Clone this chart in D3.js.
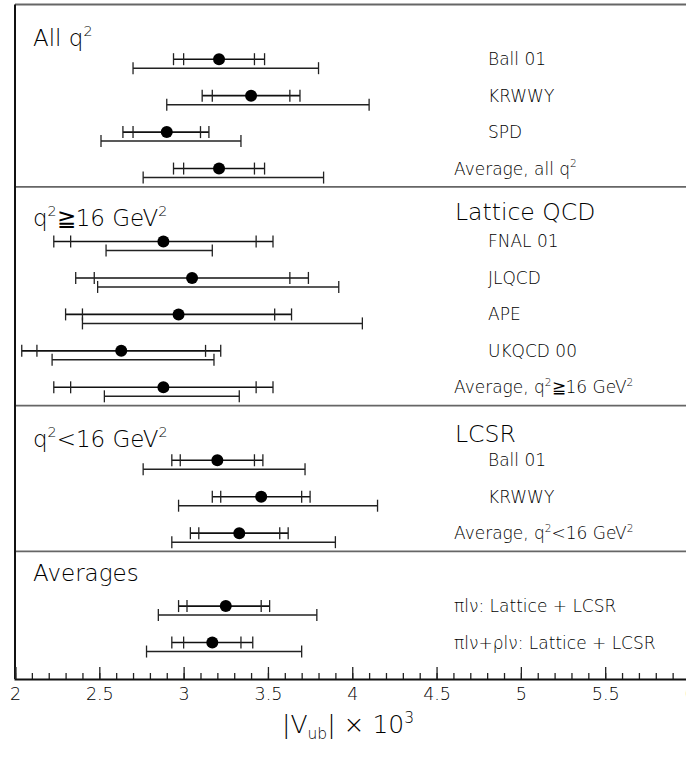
<!DOCTYPE html>
<html>
<head>
<meta charset="utf-8">
<script src="https://cdn.jsdelivr.net/npm/d3@7"></script>
<style>
  html, body { margin: 0; padding: 0; background: #fff; }
  svg { display: block; }
  text { font-family: "DejaVu Sans", sans-serif; fill: #000; }
</style>
</head>
<body>
<svg id="chart" width="686" height="757"></svg>
<script>
'use strict';

// section headings (left) and sub headings (right)
var sectionTitles = ['All q^2', 'q^2≧16 GeV^2', 'q^2<16 GeV^2', 'Averages'];
var sectionSubTitles = ['', 'Lattice QCD', 'LCSR', ''];
var sectionRows = [4, 5, 3, 2];

// one entry per measurement, top to bottom
var rowLabels = [
  'Ball 01', 'KRWWY', 'SPD', 'Average, all q^2',
  'FNAL 01', 'JLQCD', 'APE', 'UKQCD 00', 'Average, q^2≧16 GeV^2',
  'Ball 01', 'KRWWY', 'Average, q^2<16 GeV^2',
  'πlν: Lattice + LCSR', 'πlν+ρlν: Lattice + LCSR'
];
var rowIsSummary = [false, false, false, true,
  false, false, false, false, true,
  false, false, true,
  true, true];
var central = [3.21, 3.40, 2.90, 3.21,
  2.88, 3.05, 2.97, 2.63, 2.88,
  3.20, 3.46, 3.33,
  3.25, 3.17];
var innerErr = [[3.00, 3.42], [3.17, 3.63], [2.70, 3.10], [3.00, 3.42],
  [2.33, 3.43], [2.47, 3.63], [2.40, 3.54], [2.13, 3.13], [2.33, 3.43],
  [2.98, 3.42], [3.22, 3.70], [3.09, 3.57],
  [3.02, 3.46], [3.00, 3.34]];
var outerErr = [[2.94, 3.48], [3.11, 3.69], [2.64, 3.15], [2.94, 3.48],
  [2.23, 3.53], [2.36, 3.74], [2.30, 3.64], [2.04, 3.22], [2.23, 3.53],
  [2.93, 3.47], [3.17, 3.75], [3.04, 3.62],
  [2.97, 3.51], [2.93, 3.41]];
var fullErr = [[2.70, 3.80], [2.90, 4.10], [2.51, 3.34], [2.76, 3.83],
  [2.54, 3.17], [2.49, 3.92], [2.40, 4.06], [2.22, 3.18], [2.53, 3.33],
  [2.76, 3.72], [2.97, 4.15], [2.93, 3.90],
  [2.85, 3.79], [2.78, 3.70]];

var majorTicks = [2, 2.5, 3, 3.5, 4, 4.5, 5, 5.5, 6];
var axisTitle = '|V_{ub}| × 10^3';

function Chart() {
  this.svg = d3.select('#chart');
  this.x = d3.scaleLinear().domain([2, 6]).range([15, 689.5]);
  // vertical layout counted in row slots
  this.y = d3.scaleLinear().domain([0, 18.5]).range([4.5, 679]);
  this.draw();
}

// writes "q^2" / "V_{ub}" style strings as tspans
Chart.prototype.richText = function(sel, str, size) {
  var parts = str.split(/(\^\{[^}]*\}|\^.|_\{[^}]*\}|_.)/);
  var shift = 0;
  parts.forEach(function(p) {
    if (!p) return;
    var kind = 0, txt = p;
    if (p[0] === '^') { kind = 1; txt = p.replace(/^\^\{?|\}$/g, ''); }
    if (p[0] === '_') { kind = -1; txt = p.replace(/^_\{?|\}$/g, ''); }
    var target = kind === 1 ? -0.42 * size : (kind === -1 ? 0.25 * size : 0);
    sel.append('tspan')
      .attr('dy', target - shift)
      .style('font-size', kind ? (size * 0.62) + 'px' : size + 'px')
      .text(txt);
    shift = target;
  });
};

Chart.prototype.draw = function() {
  var self = this, svg = this.svg, x = this.x, y = this.y;

  // each section: its rows plus one slot of padding, last one a bit more
  var starts = [];
  var acc = 0;
  sectionRows.forEach(function(n, i) {
    starts.push(acc);
    acc += n + (i === sectionRows.length - 1 ? 1.5 : 1);
  });

  var rowSlot = [];
  sectionRows.forEach(function(n, i) {
    for (var k = 0; k < n; k++) rowSlot.push(starts[i] + 1.5 + k);
  });

  // frame
  svg.append('line')
    .attr('x1', x(2)).attr('x2', x(6))
    .attr('y1', y(0)).attr('y2', y(0))
    .attr('stroke', '#666').attr('stroke-width', 1.8);
  starts.slice(1).forEach(function(s) {
    svg.append('line')
      .attr('x1', x(2)).attr('x2', x(6))
      .attr('y1', y(s)).attr('y2', y(s))
      .attr('stroke', '#666').attr('stroke-width', 1.8);
  });
  svg.append('line')
    .attr('x1', x(2)).attr('x2', x(2))
    .attr('y1', y(0)).attr('y2', y(18.5))
    .attr('stroke', '#111').attr('stroke-width', 2);

  // section headings
  var titleBase = [1.13, 1.07, 1.13, 0.8];
  var subBase = [0, 0.91, 0.99, 0];
  sectionTitles.forEach(function(t, i) {
    var txt = svg.append('text')
      .attr('x', 33)
      .attr('y', y(starts[i] + titleBase[i]))
      .style('font-weight', 200);
    self.richText(txt, t, 23);
    if (sectionSubTitles[i]) {
      svg.append('text')
        .attr('x', 455)
        .attr('y', y(starts[i] + subBase[i]))
        .style('font-size', '23.5px')
        .style('font-weight', 200)
        .text(sectionSubTitles[i]);
    }
  });

  var rows = rowLabels.map(function(l, i) {
    return {
      label: l, summary: rowIsSummary[i], c: central[i],
      inner: innerErr[i], outer: outerErr[i], full: fullErr[i],
      yc: y(rowSlot[i])
    };
  });

  var g = svg.selectAll('.row')
    .data(rows)
    .enter().append('g')
    .attr('class', 'row');

  // lower bar: full error
  g.append('line')
    .attr('x1', function(d) { return x(d.full[0]); })
    .attr('x2', function(d) { return x(d.full[1]); })
    .attr('y1', function(d) { return d.yc + 9; })
    .attr('y2', function(d) { return d.yc + 9; })
    .attr('stroke', '#222').attr('stroke-width', 1.5);
  g.selectAll('.ftick')
    .data(function(d) { return d.full.map(function(v) { return {v: v, yc: d.yc + 9}; }); })
    .enter().append('line')
    .attr('class', 'ftick')
    .attr('x1', function(d) { return x(d.v); })
    .attr('x2', function(d) { return x(d.v); })
    .attr('y1', function(d) { return d.yc - 6; })
    .attr('y2', function(d) { return d.yc + 6; })
    .attr('stroke', '#222').attr('stroke-width', 1.3);

  // upper bar: inner + outer error
  g.append('line')
    .attr('x1', function(d) { return x(d.outer[0]); })
    .attr('x2', function(d) { return x(d.outer[1]); })
    .attr('y1', function(d) { return d.yc; })
    .attr('y2', function(d) { return d.yc; })
    .attr('stroke', '#111').attr('stroke-width', 1.6);
  g.selectAll('.itick')
    .data(function(d) {
      return d.inner.concat(d.outer).map(function(v) { return {v: v, yc: d.yc}; });
    })
    .enter().append('line')
    .attr('class', 'itick')
    .attr('x1', function(d) { return x(d.v); })
    .attr('x2', function(d) { return x(d.v); })
    .attr('y1', function(d) { return d.yc - 6; })
    .attr('y2', function(d) { return d.yc + 6; })
    .attr('stroke', '#222').attr('stroke-width', 1.3);

  g.append('circle')
    .attr('cx', function(d) { return x(d.c); })
    .attr('cy', function(d) { return d.yc; })
    .attr('r', 6)
    .attr('fill', '#000');

  g.each(function(d) {
    var t = d3.select(this).append('text')
      .attr('x', d.summary ? 454 : 488)
      .attr('y', d.yc + 6)
      .style('font-weight', 200);
    self.richText(t, d.label, 17);
  });

  // x axis
  var axisY = y(18.5);
  var minor = d3.range(20, 61).map(function(v) { return v / 10; });
  svg.append('g')
    .attr('transform', 'translate(0,' + axisY + ')')
    .call(d3.axisBottom(x).tickValues(minor).tickSize(-6).tickFormat(''))
    .call(function(a) {
      a.select('.domain').remove();
      a.selectAll('line').attr('stroke', '#222').attr('stroke-width', 1.3);
    });
  svg.append('g')
    .attr('transform', 'translate(0,' + axisY + ')')
    .call(d3.axisBottom(x).tickValues(majorTicks).tickSize(-12).tickPadding(9)
      .tickFormat(d3.format('~g')))
    .call(function(a) {
      a.select('.domain').attr('stroke', '#111').attr('stroke-width', 2);
      a.selectAll('line').attr('stroke', '#222').attr('stroke-width', 1.3);
      a.selectAll('text').style('font-size', '17.5px')
        .style('font-family', '"DejaVu Sans", sans-serif')
        .style('font-weight', 200).attr('fill', '#000');
    });

  var at = svg.append('text')
    .attr('x', 282)
    .attr('y', 733)
    .style('font-weight', 200);
  this.richText(at, axisTitle, 25);
};

new Chart();
</script>
</body>
</html>
